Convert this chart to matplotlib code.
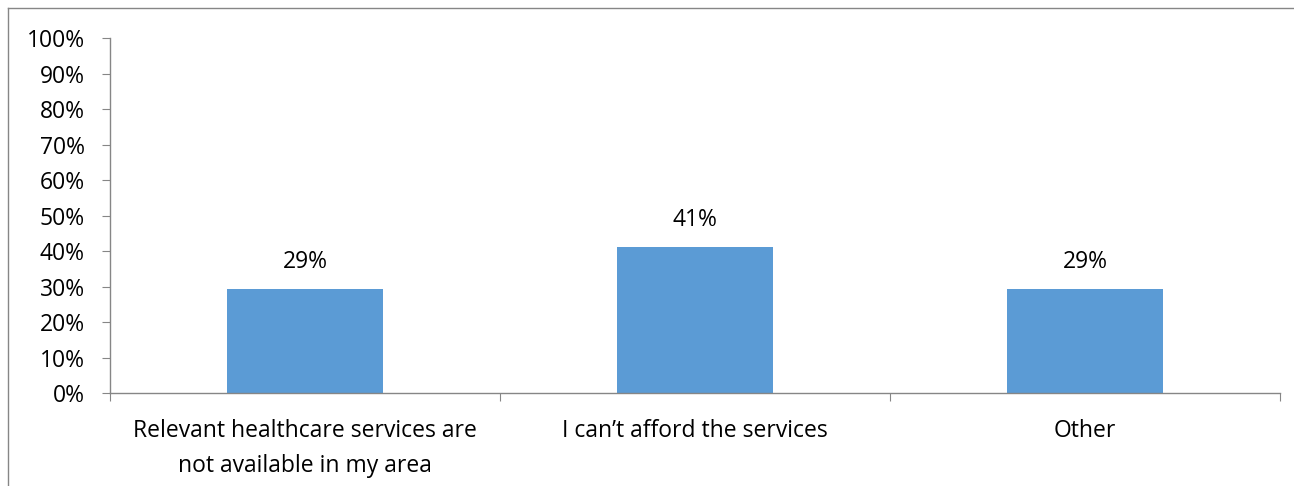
import matplotlib.pyplot as plt
from matplotlib.lines import Line2D

categories = ["Relevant healthcare services are\nnot available in my area",
              "I can\u2019t afford the services",
              "Other"]
values = [0.294, 0.412, 0.294]
labels = ["29%", "41%", "29%"]
yticks = [0, 0.1, 0.2, 0.3, 0.4, 0.5, 0.6, 0.7, 0.8, 0.9, 1.0]

plt.rcParams['font.family'] = ['Open Sans', 'DejaVu Sans']
W, H = 1294, 486
FS = 16.5
fig = plt.figure(figsize=(W / 100, H / 100), dpi=100)
ax = fig.add_axes([110 / W, (H - 393) / H, (1280 - 110) / W, (393 - 38) / H])

x = list(range(len(categories)))
ax.bar(x, values, width=0.4, color="#5B9BD5", zorder=2)
for xi, v, lab in zip(x, values, labels):
    ax.annotate(lab, (xi, v), xytext=(0, 19), textcoords="offset points",
                ha="center", va="center", fontsize=FS)

ax.set_xlim(-0.5, 2.5)
ax.set_ylim(0, 1)
ax.set_yticks(yticks)
ax.set_yticklabels([f"{int(round(t * 100))}%" for t in yticks], fontsize=FS)
ax.set_xticks([-0.5, 0.5, 1.5, 2.5])
ax.set_xticklabels([])
ax.set_xticks(x, minor=True)
ax.set_xticklabels(categories, minor=True, fontsize=FS, linespacing=1.6)
ax.tick_params(axis="x", which="minor", length=0, pad=19)
ax.tick_params(axis="x", which="major", length=6, color="#868686", direction="out")
ax.tick_params(axis="y", length=6, color="#868686", direction="out", pad=12)

for s in ["top", "right"]:
    ax.spines[s].set_visible(False)
for s in ["left", "bottom"]:
    ax.spines[s].set_color("#868686")
    ax.spines[s].set_linewidth(1)

# outer chart frame
fig.add_artist(Line2D([8 / W, 8 / W], [0, (H - 8) / H], color="#868686", lw=1))
fig.add_artist(Line2D([8 / W, 1], [(H - 8) / H, (H - 8) / H], color="#868686", lw=1))

fig.savefig("out.png", dpi=100)
